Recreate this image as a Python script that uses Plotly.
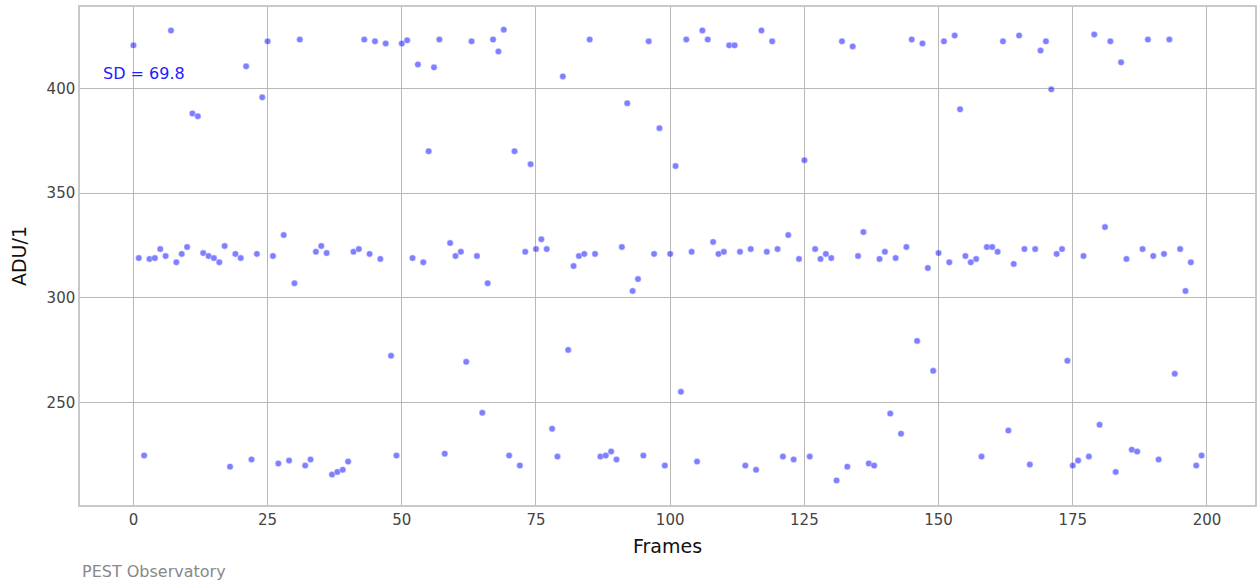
import plotly.graph_objects as go

# Mean pixel value per frame
frames = list(range(200))
adu = [
    420.5, 319.0, 224.8, 318.6, 319.0, 323.3, 320.0, 427.6, 317.0, 321.0,
    324.3, 388.0, 386.7, 321.4, 320.0, 319.0, 317.0, 324.8, 219.5, 321.0,
    319.0, 410.5, 222.9, 321.0, 395.7, 422.4, 320.0, 221.0, 330.0, 222.4,
    307.0, 423.3, 220.0, 222.9, 322.0, 324.8, 321.4, 215.7, 217.0, 218.0,
    221.9, 322.0, 323.3, 423.3, 321.0, 422.4, 318.6, 421.4, 272.4, 224.8,
    421.4, 422.9, 319.0, 411.4, 317.0, 370.0, 410.0, 423.3, 225.7, 326.2,
    320.0, 322.0, 269.5, 422.4, 320.0, 245.2, 307.0, 423.3, 417.6, 428.0,
    224.8, 370.0, 220.0, 322.0, 363.8, 323.3, 328.0, 323.3, 237.6, 224.3,
    405.7, 275.2, 315.2, 320.0, 321.0, 423.3, 321.0, 224.3, 224.8, 226.7,
    222.9, 324.3, 392.9, 303.3, 309.0, 224.8, 422.4, 321.0, 381.0, 220.0,
    321.0, 362.9, 255.2, 423.3, 322.0, 221.9, 427.6, 423.3, 326.7, 321.0,
    322.0, 420.5, 420.5, 322.0, 220.0, 323.3, 218.0, 427.6, 322.0, 422.4,
    323.3, 224.3, 330.0, 222.9, 318.6, 365.7, 224.3, 323.3, 318.6, 321.0,
    319.0, 212.9, 422.4, 219.5, 420.0, 320.0, 331.4, 221.0, 220.0, 318.6,
    322.0, 244.8, 319.0, 235.2, 324.3, 423.3, 279.5, 421.4, 314.3, 265.2,
    321.4, 422.4, 317.0, 425.2, 390.0, 320.0, 317.0, 318.6, 224.3, 324.3,
    324.3, 322.0, 422.4, 236.7, 316.2, 425.2, 323.3, 220.5, 323.3, 418.0,
    422.4, 399.5, 321.0, 323.3, 270.0, 220.0, 222.4, 320.0, 224.3, 425.7,
    239.5, 333.8, 422.4, 217.0, 412.4, 318.6, 227.6, 226.7, 323.3, 423.3,
    320.0, 222.9, 321.0, 423.3, 263.8, 323.3, 303.3, 317.0, 220.0, 224.8,
]
x_ticks = [0, 25, 50, 75, 100, 125, 150, 175, 200]
y_ticks = [250, 300, 350, 400]
sd_label = "SD = 69.8"
credit = "PEST Observatory"

fig = go.Figure()
fig.add_trace(go.Scatter(
    x=frames, y=adu, mode="markers",
    marker=dict(size=6.5, color="rgba(0,0,255,0.5)",
                line=dict(color="rgba(255,255,255,0.8)", width=0.6)),
    showlegend=False, hoverinfo="x+y",
))

axis_common = dict(
    showgrid=True, gridcolor="#b8b8b8", gridwidth=1,
    zeroline=False, showline=True, linecolor="#c8c8c8", linewidth=1.5,
    mirror=True, ticks="", tickfont=dict(size=15, color="#444444", family="DejaVu Sans"),
)

fig.update_xaxes(
    range=[-9.95, 208.95], tickvals=x_ticks,
    title=dict(text="Frames", font=dict(size=19, color="#111111", family="DejaVu Sans"), standoff=12),
    **axis_common,
)
fig.update_yaxes(
    range=[201.2, 438.8], tickvals=y_ticks,
    title=dict(text="ADU/1", font=dict(size=19, color="#111111", family="DejaVu Sans"), standoff=15),
    **axis_common,
)

fig.add_annotation(
    text=sd_label, xref="paper", yref="paper", x=0.018, y=0.866,
    xanchor="left", yanchor="middle", showarrow=False,
    font=dict(size=16, color="#2020ff", family="DejaVu Sans"),
)
fig.add_annotation(
    text=credit, xref="paper", yref="paper", x=0.0, y=-0.1345,
    xanchor="left", yanchor="middle", showarrow=False,
    font=dict(size=16, color="#888888", family="DejaVu Sans"),
)

fig.update_layout(
    width=1260, height=588,
    margin=dict(l=80, r=3, t=7, b=83),
    paper_bgcolor="white", plot_bgcolor="white",
)

fig.write_html("out.html")
